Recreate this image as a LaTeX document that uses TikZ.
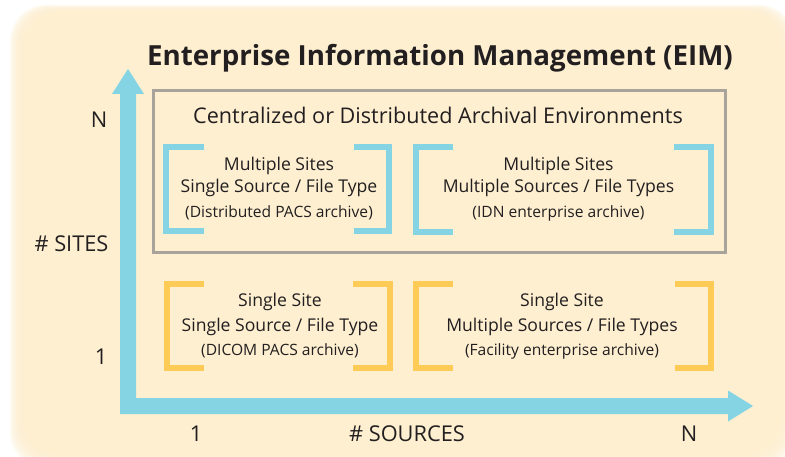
\documentclass[tikz,border=0pt]{standalone}
\usepackage{fontspec}
\setmainfont{Open Sans}
\definecolor{cream}{HTML}{FDEFCF}
\definecolor{axisblue}{HTML}{85D4E4}
\definecolor{orangeb}{HTML}{FECB57}
\definecolor{txt}{HTML}{231F20}
\definecolor{grayb}{HTML}{A8A49C}
\tikzset{
  lbl/.style={anchor=base, text=txt, inner sep=0pt, font=\fontsize{21.8}{24}\selectfont},
  boxtxt/.style={anchor=base, text=txt, inner sep=0pt, font=\fontsize{17.6}{20}\selectfont},
  smalltxt/.style={anchor=base, text=txt, inner sep=0pt, font=\fontsize{15.6}{18}\selectfont},
  bluebr/.style={draw=axisblue, line width=6pt, miter limit=10},
  orangebr/.style={draw=orangeb, line width=6pt, miter limit=10},
}
\begin{document}
\begin{tikzpicture}[x=1pt,y=-1pt]
\useasboundingbox (0,0) rectangle (785,457);
\fill[white] (0,0) rectangle (785,457);
% soft cream background
\foreach \i in {0,...,7}{
  \fill[cream, opacity=0.3, rounded corners=36pt] ({10+2*\i},{5+1*\i}) rectangle ({795-2*\i},{468-2*\i});
}
% axes
\fill[axisblue] (120,414) -- (120,94) -- (112,94) -- (128,69) -- (144,94) -- (136,94)
  -- (136,398) -- (728,398) -- (728,390.5) -- (753,406) -- (728,421.5) -- (728,414) -- cycle;
% title
\node[anchor=base, text=txt, inner sep=0pt, font=\fontsize{27.7}{30}\selectfont\bfseries] (title) at (440,66) {Enterprise Information Management (EIM)};
% gray box
\draw[grayb, line width=2.5pt] (153.5,90.5) rectangle (725.5,252.5);
\node[anchor=base, text=txt, inner sep=0pt, font=\fontsize{21.6}{24}\selectfont] (env) at (438,124) {Centralized or Distributed Archival Environments};
% box 1
\draw[bluebr] (204,147) -- (166,147) -- (166,231) -- (204,231);
\draw[bluebr] (354,147) -- (389,147) -- (389,231) -- (354,231);
\node[boxtxt] (b1a) at (279,171) {Multiple Sites};
\node[boxtxt] (b1b) at (279,193) {Single Source / File Type};
\node[smalltxt] (b1c) at (279,218) {(Distributed PACS archive)};
% box 2
\draw[bluebr] (453,147) -- (416,147) -- (416,232) -- (453,232);
\draw[bluebr] (674,147) -- (711,147) -- (711,232) -- (674,232);
\node[boxtxt] (b2a) at (558.5,171) {Multiple Sites};
\node[boxtxt] (b2b) at (558.5,193) {Multiple Sources / File Types};
\node[smalltxt] (b2c) at (558.5,218) {(IDN enterprise archive)};
% box 3
\draw[orangebr] (204,284) -- (167,284) -- (167,368) -- (204,368);
\draw[orangebr] (353,284) -- (390,284) -- (390,368) -- (353,368);
\node[boxtxt] (b3a) at (280,307) {Single Site};
\node[boxtxt] (b3b) at (280,331) {Single Source / File Type};
\node[smalltxt] (b3c) at (280,355) {(DICOM PACS archive)};
% box 4
\draw[orangebr] (453,284) -- (416,284) -- (416,368) -- (453,368);
\draw[orangebr] (675,284) -- (711,284) -- (711,368) -- (675,368);
\node[boxtxt] (b4a) at (562,307) {Single Site};
\node[boxtxt] (b4b) at (562,331) {Multiple Sources / File Types};
\node[smalltxt] (b4c) at (562,355) {(Facility enterprise archive)};
% axis labels
\node[lbl] (yN) at (99,128) {N};
\node[lbl] (ylab) at (71.5,252) {\# SITES};
\node[lbl] (y1) at (101,364) {1};
\node[lbl] (x1) at (196,441) {1};
\node[lbl] (xlab) at (407,441) {\# SOURCES};
\node[lbl] (xN) at (689,441) {N};
\end{tikzpicture}
\end{document}
